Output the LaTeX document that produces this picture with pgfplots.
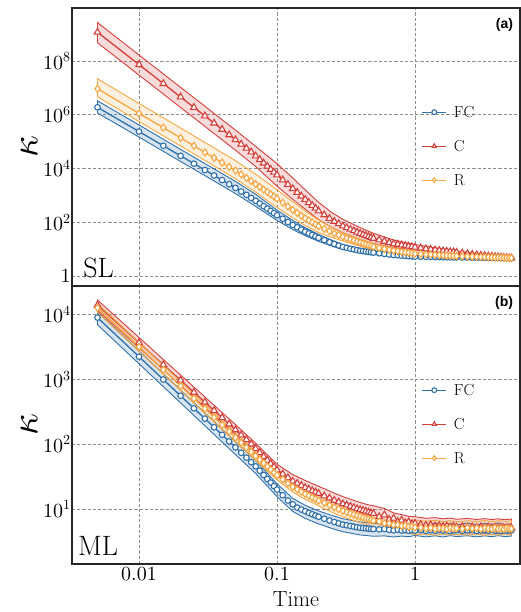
\documentclass[border=0pt]{standalone}
\usepackage{fontspec}
\usepackage{pgfplots}
\pgfplotsset{compat=1.18}
\usepackage{pgfplotstable}
\DeclareFontShape{OT1}{cmr}{m}{n}{<->cmr10}{}
\DeclareFontShape{OML}{cmm}{m}{it}{<->cmmi10}{}
\DeclareFontShape{OMS}{cmsy}{m}{n}{<->cmsy10}{}
\newfontfamily\labfont{Liberation Sans}
\definecolor{cFC}{RGB}{48,112,168}
\definecolor{cC}{RGB}{210,62,58}
\definecolor{cR}{RGB}{244,167,66}

\pgfplotstableread{
t fc c r
0.005 1.9e6 1.18e9 9.33e6
0.010 2.375e5 7.34e7 1.12e6
0.015 7.04e4 1.45e7 3.33e5
0.020 2.97e4 4.59e6 1.38e5
0.025 1.52e4 1.88e6 6.97e4
0.030 8.80e3 9.07e5 3.98e4
0.035 5.54e3 4.89e5 2.49e4
0.040 3.71e3 2.87e5 1.66e4
0.045 2.61e3 1.79e5 1.15e4
0.050 1.90e3 1.18e5 8.32e3
0.055 1394 8.03e4 6.00e3
0.060 1045 5.67e4 4.46e3
0.065 804 4.11e4 3.39e3
0.070 631 2.93e4 2.63e3
0.075 497 2.14e4 2.07e3
0.080 396 1.59e4 1.65e3
0.085 321 1.21e4 1.34e3
0.090 263 9.29e3 1.10e3
0.095 218 7.26e3 910
0.100 182 5.75e3 759
0.11 135 3.76e3 535
0.12 102 2.55e3 388
0.13 79.4 1.78e3 288
0.14 64.7 1.28e3 223
0.15 53.5 942 176
0.16 44.7 708 141
0.17 38.7 541 117
0.18 33.8 420 98.2
0.19 29.7 331 83.0
0.20 26.3 263 70.8
0.22 21.6 188 56.5
0.24 18.1 139 45.9
0.26 15.5 108 38.5
0.28 13.6 87.7 33.2
0.30 12.0 72.4 28.8
0.32 11.2 62.7 25.8
0.34 10.4 54.7 23.1
0.36 9.8 48.2 20.9
0.38 9.2 42.7 19.0
0.40 8.71 38.0 17.4
0.42 8.41 34.7 16.1
0.44 8.13 31.8 15.0
0.46 7.87 29.3 14.0
0.48 7.64 27.1 13.1
0.50 7.41 25.1 12.3
0.55 6.98 22.0 11.1
0.60 6.62 19.5 10.2
0.65 6.30 17.5 9.40
0.70 6.03 15.8 8.71
0.75 5.86 15.0 8.30
0.80 5.71 14.2 7.93
0.85 5.58 13.5 7.59
0.90 5.46 12.8 7.29
0.95 5.35 12.3 7.01
1.0 5.25 11.7 6.76
1.1 5.20 11.0 6.58
1.2 5.15 10.4 6.40
1.3 5.12 9.84 6.25
1.4 5.07 9.35 6.11
1.5 5.04 8.91 5.98
1.6 5.01 8.59 5.87
1.7 4.98 8.32 5.77
1.8 4.94 8.05 5.66
1.9 4.92 7.80 5.57
2.0 4.90 7.59 5.50
2.2 4.86 7.14 5.41
2.4 4.83 6.77 5.32
2.6 4.80 6.44 5.25
2.8 4.78 6.15 5.18
3.0 4.75 5.89 5.12
3.2 4.73 5.71 5.06
3.4 4.71 5.57 5.00
3.6 4.69 5.42 4.95
3.8 4.67 5.30 4.91
4.0 4.65 5.18 4.86
4.2 4.63 5.06 4.82
4.4 4.61 4.95 4.79
4.6 4.60 4.85 4.74
4.8 4.58 4.76 4.71
5.0 4.57 4.68 4.68
}\topmean

\pgfplotstableread{
t fc c r
0.005 8900 13800 12600
0.010 2225 3650 3150
0.015 989 1675 1400
0.020 556 964 788
0.025 356 628 504
0.030 247 443 350
0.035 182 329 257
0.040 139 255 197
0.045 110 203 156
0.050 89.0 166 126
0.055 73.6 138 105
0.060 61.8 117 88.5
0.065 52.7 100 75.9
0.070 45.4 85.5 65.8
0.075 38.8 73.8 57.5
0.080 33.4 64.3 50.8
0.085 29.0 56.5 45.2
0.090 25.5 50.0 40.5
0.095 22.5 44.5 36.5
0.100 19.95 39.8 33.1
0.11 16.3 34.5 28.5
0.12 13.5 30.3 24.8
0.13 11.8 26.9 21.9
0.14 10.5 24.8 20.0
0.15 9.80 23.0 18.4
0.16 9.23 21.4 17.0
0.17 8.71 20.2 16.0
0.18 8.30 19.1 15.0
0.19 7.93 18.2 14.2
0.20 7.59 17.4 13.5
0.22 7.08 15.9 12.4
0.24 6.65 14.7 11.4
0.26 6.30 13.6 10.6
0.28 6.01 12.8 9.93
0.30 5.75 12.0 9.33
0.32 5.61 11.5 8.91
0.34 5.47 11.0 8.53
0.36 5.35 10.5 8.19
0.38 5.24 10.1 7.87
0.40 5.13 9.77 7.59
0.42 5.08 9.48 7.36
0.44 5.04 9.20 7.14
0.46 4.99 8.95 6.95
0.48 4.94 8.73 6.78
0.50 4.90 8.51 6.61
0.55 4.85 7.6 6.42
0.60 4.92 8.1 6.05
0.65 4.78 6.9 6.00
0.70 4.70 7.2 5.70
0.75 4.81 6.4 5.72
0.80 4.66 6.7 5.48
0.85 4.74 6.1 5.55
0.90 4.62 6.3 5.33
0.95 4.70 5.9 5.38
1.0 4.65 6.0 5.20
1.1 4.72 5.75 5.15
1.2 4.58 5.62 4.98
1.3 4.69 5.70 5.12
1.4 4.61 5.45 4.95
1.5 4.75 5.52 5.08
1.6 4.63 5.38 5.02
1.7 4.70 5.46 4.90
1.8 4.57 5.30 5.10
1.9 4.66 5.41 4.97
2.0 4.72 5.25 5.05
2.2 4.60 5.35 4.93
2.4 4.68 5.18 5.12
2.6 4.74 5.30 4.98
2.8 4.59 5.15 5.06
3.0 4.67 5.28 4.92
3.2 4.71 5.12 5.08
3.4 4.62 5.25 5.00
3.6 4.76 5.10 4.94
3.8 4.64 5.22 5.10
4.0 4.69 5.08 4.96
4.2 4.58 5.20 5.04
4.4 4.73 5.05 4.92
4.6 4.65 5.18 5.07
4.8 4.70 5.06 4.99
5.0 4.68 5.12 4.95
}\botmean

% band polygons: upper edge forward, lower edge backward
\pgfplotstableread{
t y
0.005 3.31e6
0.01 4.17e5
0.02 5.16e4
0.03 1.53e4
0.05 3.31e3
0.07 1.10e3
0.1 282
0.13 117
0.16 63.1
0.2 35.5
0.25 21.4
0.3 14.8
0.4 10.2
0.5 8.51
0.7 6.76
1 5.75
1.5 5.46
2 5.25
3 5.04
5 4.79
5 4.37
3 4.49
2 4.57
1.5 4.65
1 4.79
0.7 5.37
0.5 6.46
0.4 7.41
0.3 9.77
0.25 12.9
0.2 19.5
0.16 31.6
0.13 53.7
0.1 117
0.07 389
0.05 1.17e3
0.03 5.45e3
0.02 1.83e4
0.01 1.48e5
0.005 1.17e6
}\topbandFC

\pgfplotstableread{
t y
0.005 2.69e9
0.01 1.68e8
0.02 1.05e7
0.03 2.08e6
0.05 2.69e5
0.07 6.71e4
0.1 1.51e4
0.13 4.47e3
0.16 1.62e3
0.2 550
0.25 229
0.3 129
0.4 63.1
0.5 38.9
0.7 21.9
1 14.8
1.5 10.7
2 8.71
3 6.53
5 5.01
5 4.37
3 5.31
2 6.61
1.5 7.41
1 9.33
0.7 11.5
0.5 16.2
0.4 22.9
0.3 40.7
0.25 63.1
0.2 126
0.16 309
0.13 708
0.1 2.19e3
0.07 1.19e4
0.05 4.79e4
0.03 3.70e5
0.02 1.87e6
0.01 2.99e7
0.005 4.79e8
}\topbandC

\pgfplotstableread{
t y
0.005 2.19e7
0.01 2.63e6
0.02 3.24e5
0.03 9.33e4
0.05 1.95e4
0.07 6.17e3
0.1 1.62e3
0.13 575
0.16 263
0.2 120
0.25 64.6
0.3 41.7
0.4 23.4
0.5 15.8
0.7 10.5
1 7.76
1.5 6.71
2 6.03
3 5.48
5 4.90
5 4.47
3 4.78
2 5.01
1.5 5.33
1 5.89
0.7 7.24
0.5 9.55
0.4 12.9
0.3 20.0
0.25 26.9
0.2 41.7
0.16 75.9
0.13 145
0.1 355
0.07 1.32e3
0.05 4.17e3
0.03 2.00e4
0.02 6.92e4
0.01 5.62e5
0.005 4.68e6
}\topbandR

\pgfplotstableread{
t y
0.005 10900
0.01 2740
0.02 684
0.05 109
0.07 56.0
0.1 24.5
0.13 14.6
0.16 11.4
0.2 9.33
0.25 7.94
0.3 7.08
0.35 6.65
0.4 6.31
0.45 6.17
0.5 6.03
0.6 5.85
0.7 5.70
0.8 6.05
0.9 5.65
1.0 5.90
1.2 5.62
1.4 6.10
1.6 5.75
1.8 5.95
2.0 5.68
2.4 6.08
2.8 5.72
3.2 6.02
3.6 5.80
4.0 6.12
4.5 5.74
5.0 5.95
5.0 3.83
4.5 3.75
4.0 3.88
3.6 3.74
3.2 3.85
2.8 3.72
2.4 3.87
2.0 3.76
1.8 3.88
1.6 3.70
1.4 3.86
1.2 3.72
1.0 3.90
0.9 3.74
0.8 3.82
0.7 3.70
0.6 3.85
0.5 3.80
0.45 3.89
0.4 3.98
0.35 4.20
0.3 4.47
0.25 5.01
0.2 5.89
0.16 7.16
0.13 9.18
0.1 15.5
0.07 35.3
0.05 69.0
0.02 432
0.01 1730
0.005 6900
}\botbandFC

\pgfplotstableread{
t y
0.005 16600
0.01 4390
0.02 1160
0.05 200
0.07 103
0.1 49.0
0.13 33.9
0.16 27.5
0.2 22.4
0.25 18.2
0.3 15.5
0.35 13.9
0.4 12.6
0.45 11.7
0.5 11.2
0.6 10.2
0.7 8.70
0.8 8.20
0.9 7.70
1.0 7.60
1.2 7.20
1.4 7.35
1.6 7.05
1.8 7.25
2.0 6.95
2.4 7.15
2.8 6.90
3.2 7.10
3.6 6.88
4.0 7.05
4.5 6.85
5.0 7.00
5.0 4.24
4.5 4.30
4.0 4.20
3.6 4.33
3.2 4.22
2.8 4.36
2.4 4.25
2.0 4.38
1.8 4.28
1.6 4.42
1.4 4.30
1.2 4.45
1.0 4.40
0.9 4.70
0.8 4.75
0.7 5.25
0.6 5.60
0.5 6.46
0.45 7.05
0.4 7.59
0.35 8.36
0.3 9.33
0.25 11.0
0.2 13.5
0.16 16.6
0.13 21.4
0.1 32.4
0.07 71.1
0.05 138
0.02 802
0.01 3030
0.005 11500
}\botbandC

\pgfplotstableread{
t y
0.005 14800
0.01 3700
0.02 925
0.05 148
0.07 77.3
0.1 38.9
0.13 26.3
0.16 20.4
0.2 16.2
0.25 13.5
0.3 11.5
0.35 10.3
0.4 9.33
0.45 8.67
0.5 8.32
0.6 7.60
0.7 7.20
0.8 6.95
0.9 6.70
1.0 6.80
1.2 6.45
1.4 6.70
1.6 6.40
1.8 6.62
2.0 6.35
2.4 6.58
2.8 6.42
3.2 6.65
3.6 6.38
4.0 6.60
4.5 6.45
5.0 6.55
5.0 4.00
4.5 4.09
4.0 3.97
3.6 4.06
3.2 3.94
2.8 4.10
2.4 3.96
2.0 4.08
1.8 3.98
1.6 4.12
1.4 3.95
1.2 4.10
1.0 4.02
0.9 4.30
0.8 4.25
0.7 4.55
0.6 4.80
0.5 5.25
0.45 5.73
0.4 6.17
0.35 6.79
0.3 7.59
0.25 8.91
0.2 11.2
0.16 14.1
0.13 18.2
0.1 28.2
0.07 56.0
0.05 107
0.02 670
0.01 2680
0.005 10700
}\botbandR

\begin{document}
\begin{tikzpicture}
\useasboundingbox (0,0) rectangle (521pt,612pt);
% ---------- top panel (a) ----------
\begin{axis}[at={(72pt,326pt)}, anchor=south west,
    scale only axis, width=448pt, height=278pt,
    xmode=log, ymode=log, xmin=0.003268, xmax=5.767,
    ymin=0.4246, ymax=9.42e9,
    grid=major,
    grid style={dash pattern=on 3.2pt off 2pt, color=black!45, line width=0.6pt},
    major tick length=0pt, minor tick length=0pt,
    axis line style={line width=1.2pt, black!85},
    tick label style={font=\fontsize{20}{20}\selectfont},
    yticklabel style={inner sep=1.2pt},
    xtick={0.01,0.1,1}, xticklabels={},
    ytick={1,1e2,1e4,1e6,1e8}, yticklabels={$1$,$10^{2}$,$10^{4}$,$10^{6}$,$10^{8}$},
    ylabel={$\kappa$}, ylabel shift={1pt},
    ylabel style={font=\fontsize{38}{38}\selectfont},
    legend cell align=left,
    legend image code/.code={\draw[mark repeat=2,mark phase=2, mark size=2.4pt] plot coordinates {(0pt,0pt) (12pt,0pt) (24pt,0pt)};},
    legend style={draw=none, fill=none, at={(0.78,0.653)}, anchor=north west,
      font=\fontsize{16}{16}\selectfont, row sep=19pt, column sep=5pt, inner sep=0pt,
      nodes={inner sep=2pt, text height=11pt, text depth=0pt}}]
\addplot[draw=cFC, line width=0.9pt, fill=cFC, fill opacity=0.19, no marks, forget plot] table[x=t,y=y]{\topbandFC} -- cycle;
\addplot[cFC, line width=1.3pt, mark=*, mark size=2.8pt, mark options={fill=white, draw=cFC, line width=1.1pt, solid}] table[x=t,y=fc]{\topmean};
\addlegendentry{$\mathrm{FC}$}
\addplot[draw=cC, line width=0.9pt, fill=cC, fill opacity=0.19, no marks, forget plot] table[x=t,y=y]{\topbandC} -- cycle;
\addplot[cC, line width=1.3pt, mark=triangle*, mark size=3.8pt, mark options={fill=white, draw=cC, line width=1.1pt, solid}] table[x=t,y=c]{\topmean};
\addlegendentry{$\mathrm{C}$}
\addplot[draw=cR, line width=0.9pt, fill=cR, fill opacity=0.17, no marks, forget plot] table[x=t,y=y]{\topbandR} -- cycle;
\addplot[cR, line width=1.3pt, mark=diamond*, mark size=3.5pt, mark options={fill=white, draw=cR, line width=1.1pt, solid}] table[x=t,y=r]{\topmean};
\addlegendentry{$\mathrm{R}$}
\node[anchor=north east, inner sep=0pt, font=\labfont\bfseries\fontsize{14}{14}\selectfont] at (rel axis cs:0.985,0.964) {(a)};
\node[anchor=base west, inner sep=0pt, font=\fontsize{28}{28}\selectfont] at (rel axis cs:0.025,0.032) {$\mathrm{SL}$};
\end{axis}
% ---------- bottom panel (b) ----------
\begin{axis}[at={(72pt,48pt)}, anchor=south west,
    scale only axis, width=448pt, height=278pt,
    xmode=log, ymode=log, xmin=0.003268, xmax=5.767,
    ymin=1.42, ymax=2.73e4,
    grid=major,
    grid style={dash pattern=on 3.2pt off 2pt, color=black!45, line width=0.6pt},
    major tick length=0pt, minor tick length=0pt,
    axis line style={line width=1.2pt, black!85},
    tick label style={font=\fontsize{20}{20}\selectfont},
    yticklabel style={inner sep=1.2pt},
    xtick={0.01,0.1,1}, xticklabels={$0.01$,$0.1$,$1$},
    ytick={10,100,1000,10000}, yticklabels={$10^{1}$,$10^{2}$,$10^{3}$,$10^{4}$},
    xlabel={$\mathrm{Time}$}, xlabel shift={4pt}, xlabel style={font=\fontsize{22}{22}\selectfont},
    ylabel={$\kappa$}, ylabel shift={1pt},
    ylabel style={font=\fontsize{38}{38}\selectfont},
    legend cell align=left,
    legend image code/.code={\draw[mark repeat=2,mark phase=2, mark size=2.4pt] plot coordinates {(0pt,0pt) (12pt,0pt) (24pt,0pt)};},
    legend style={draw=none, fill=none, at={(0.78,0.653)}, anchor=north west,
      font=\fontsize{16}{16}\selectfont, row sep=19pt, column sep=5pt, inner sep=0pt,
      nodes={inner sep=2pt, text height=11pt, text depth=0pt}}]
\addplot[draw=cFC, line width=0.9pt, fill=cFC, fill opacity=0.19, no marks, forget plot] table[x=t,y=y]{\botbandFC} -- cycle;
\addplot[cFC, line width=1.3pt, mark=*, mark size=2.8pt, mark options={fill=white, draw=cFC, line width=1.1pt, solid}] table[x=t,y=fc]{\botmean};
\addlegendentry{$\mathrm{FC}$}
\addplot[draw=cC, line width=0.9pt, fill=cC, fill opacity=0.19, no marks, forget plot] table[x=t,y=y]{\botbandC} -- cycle;
\addplot[cC, line width=1.3pt, mark=triangle*, mark size=3.8pt, mark options={fill=white, draw=cC, line width=1.1pt, solid}] table[x=t,y=c]{\botmean};
\addlegendentry{$\mathrm{C}$}
\addplot[draw=cR, line width=0.9pt, fill=cR, fill opacity=0.17, no marks, forget plot] table[x=t,y=y]{\botbandR} -- cycle;
\addplot[cR, line width=1.3pt, mark=diamond*, mark size=3.5pt, mark options={fill=white, draw=cR, line width=1.1pt, solid}] table[x=t,y=r]{\botmean};
\addlegendentry{$\mathrm{R}$}
\node[anchor=north east, inner sep=0pt, font=\labfont\bfseries\fontsize{14}{14}\selectfont] at (rel axis cs:0.985,0.964) {(b)};
\node[anchor=base west, inner sep=0pt, font=\fontsize{28}{28}\selectfont] at (rel axis cs:0.0134,0.032) {$\mathrm{ML}$};
\end{axis}
\end{tikzpicture}
\end{document}
